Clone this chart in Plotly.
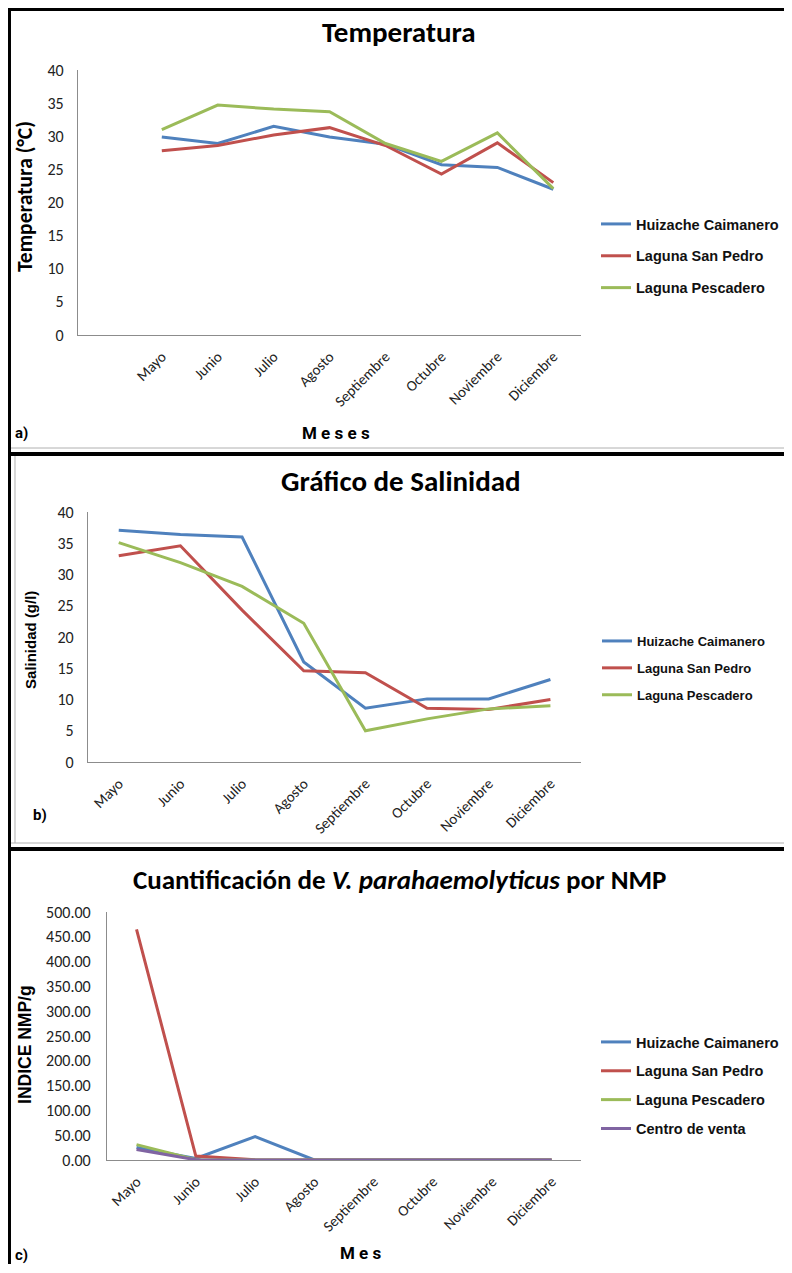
import plotly.graph_objects as go

meses = ["Mayo", "Junio", "Julio", "Agosto", "Septiembre", "Octubre", "Noviembre", "Diciembre"]
series_names = ["Huizache Caimanero", "Laguna San Pedro", "Laguna Pescadero", "Centro de venta"]

temp_huizache = [29.9, 28.9, 31.5, 29.9, 28.8, 25.7, 25.3, 22.0]
temp_sanpedro = [27.8, 28.6, 30.2, 31.3, 28.6, 24.3, 29.0, 23.0]
temp_pescadero = [31.0, 34.7, 34.1, 33.7, 28.9, 26.2, 30.5, 22.1]

sal_huizache = [37.1, 36.4, 36.0, 16.0, 8.6, 10.1, 10.1, 13.2]
sal_sanpedro = [33.0, 34.6, 24.3, 14.6, 14.3, 8.6, 8.4, 10.0]
sal_pescadero = [35.1, 31.9, 28.1, 22.2, 5.0, 6.9, 8.5, 9.0]

nmp_huizache = [25.0, 3.0, 47.0, 0.0, 0.0, 0.0, 0.0, 0.0]
nmp_sanpedro = [465.0, 8.0, 0.5, 0.0, 0.0, 0.0, 0.0, 0.0]
nmp_pescadero = [31.0, 0.5, 0.0, 0.0, 0.0, 0.0, 0.0, 0.0]
nmp_centro = [21.0, 0.5, 0.0, 0.0, 0.0, 0.0, 0.0, 0.0]

colors = ["#4F81BD", "#C0504D", "#9BBB59", "#8064A2"]

# page body has an 8px margin: figure sized to fit the 792x1273 window
OFF = 8
W, H = 776, 1256


def px(x):
    return (x - OFF) / W


def py(y):
    return 1 - (y - OFF) / H


fig = go.Figure()

panels = [
    ("", [temp_huizache, temp_sanpedro, temp_pescadero], "legend"),
    ("2", [sal_huizache, sal_sanpedro, sal_pescadero], "legend2"),
    ("3", [nmp_huizache, nmp_sanpedro, nmp_pescadero, nmp_centro], "legend3"),
]
for suffix, data, leg in panels:
    for i, vals in enumerate(data):
        fig.add_trace(go.Scatter(
            x=meses, y=vals, mode="lines", name=series_names[i],
            line=dict(color=colors[i], width=3),
            xaxis="x" + suffix, yaxis="y" + suffix,
            legend=leg, legendgroup=leg + str(i),
        ))

calibri = "Carlito, Calibri, Lato, sans-serif"
tickfont = dict(family=calibri, size=16, color="#222222")
xtickfont = dict(family=calibri, size=15, color="#222222")
axcommon = dict(showgrid=False, zeroline=False, showline=True, linecolor="#8C8C8C",
                linewidth=1, ticks="", automargin=False)

fig.update_layout(
    width=W, height=H, margin=dict(l=0, r=0, t=0, b=0),
    paper_bgcolor="white", plot_bgcolor="white", showlegend=True,
    xaxis=dict(domain=[px(78), px(582)], anchor="y", type="category",
               categoryarray=meses, range=[-1.5, 7.5], tickangle=-45,
               tickfont=xtickfont, ticklabelstandoff=6, **axcommon),
    yaxis=dict(domain=[py(335), py(70)], anchor="x", range=[0, 40], dtick=5,
               tickfont=tickfont, ticklabelstandoff=10, **axcommon),
    xaxis2=dict(domain=[px(88), px(582)], anchor="y2", type="category",
                categoryarray=meses, range=[-0.5, 7.5], tickangle=-45,
                tickfont=xtickfont, ticklabelstandoff=6, **axcommon),
    yaxis2=dict(domain=[py(762), py(512)], anchor="x2", range=[0, 40], dtick=5,
                tickfont=tickfont, ticklabelstandoff=10, **axcommon),
    xaxis3=dict(domain=[px(107), px(582)], anchor="y3", type="category",
                categoryarray=meses, range=[-0.5, 7.5], tickangle=-45,
                tickfont=xtickfont, ticklabelstandoff=6, **axcommon),
    yaxis3=dict(domain=[py(1160), py(912)], anchor="x3", range=[0, 500], dtick=50,
                tickformat=".2f", tickfont=tickfont, ticklabelstandoff=12, **axcommon),
)

arialb = "Liberation Sans, Arial, sans-serif"
legfont_a = dict(family=arialb, size=14.5, color="#111111", weight="bold")
legfont_b = dict(family=arialb, size=13, color="#111111", weight="bold")
legcommon = dict(xanchor="left", yanchor="top", bgcolor="rgba(0,0,0,0)",
                 traceorder="grouped", itemclick=False, itemdoubleclick=False)
fig.update_layout(
    legend=dict(x=px(597), y=py(208), font=legfont_a, tracegroupgap=10, **legcommon),
    legend2=dict(x=px(597), y=py(626), font=legfont_b, tracegroupgap=7, **legcommon),
    legend3=dict(x=px(597), y=py(1026), font=legfont_a, tracegroupgap=7, **legcommon),
)

ann = []
ann.append(dict(text="<b>Temperatura</b>", x=px(400), y=py(32),
                font=dict(family=calibri, size=29, color="#000000")))
ann.append(dict(text="<b>Gráfico de Salinidad</b>", x=px(402), y=py(481),
                font=dict(family=calibri, size=29, color="#000000")))
ann.append(dict(text="<b>Cuantificación de <i>V. parahaemolyticus</i> por NMP</b>",
                x=px(400), y=py(879),
                font=dict(family=calibri, size=27, color="#000000")))
ann.append(dict(text="<b>Temperatura (°C)</b>", x=px(25), y=py(196), textangle=-90,
                font=dict(family=calibri, size=21.5, color="#000000")))
ann.append(dict(text="<b>Salinidad (g/l)</b>", x=px(30), y=py(640), textangle=-90,
                font=dict(family=arialb, size=15, color="#000000")))
ann.append(dict(text="<b>INDICE NMP/g</b>", x=px(25), y=py(1044), textangle=-90,
                font=dict(family=arialb, size=17.5, color="#000000")))
narrow = "Liberation Sans Narrow, Arial Narrow, Roboto, sans-serif"
ann.append(dict(text="<b>M e s e s</b>", x=px(336), y=py(433),
                font=dict(family=narrow, size=17, color="#000000")))
ann.append(dict(text="<b>M e s</b>", x=px(361), y=py(1253),
                font=dict(family=narrow, size=17, color="#000000")))
ann.append(dict(text="<b>a)</b>", x=px(22), y=py(433),
                font=dict(family=narrow, size=15, color="#000000")))
ann.append(dict(text="<b>b)</b>", x=px(40), y=py(815),
                font=dict(family=narrow, size=15, color="#000000")))
ann.append(dict(text="<b>c)</b>", x=px(22), y=py(1255),
                font=dict(family=narrow, size=15, color="#000000")))
for a in ann:
    a.update(xref="paper", yref="paper", showarrow=False, xanchor="center", yanchor="middle")
fig.update_layout(annotations=ann)

shapes = []


def hline(y, x0, x1, color, w):
    shapes.append(dict(type="line", xref="paper", yref="paper", x0=px(x0), x1=px(x1),
                       y0=py(y), y1=py(y), line=dict(color=color, width=w)))


def vline(x, y0, y1, color, w):
    shapes.append(dict(type="line", xref="paper", yref="paper", x0=px(x), x1=px(x),
                       y0=py(y0), y1=py(y1), line=dict(color=color, width=w)))


hline(448, 10, 792, "#B0B0B0", 1)
hline(843, 10, 792, "#B0B0B0", 1)
vline(15, 456, 843, "#B0B0B0", 1)
hline(9.5, 8, 792, "#000000", 3)
hline(454, 8, 792, "#000000", 4)
hline(849, 8, 792, "#000000", 4)
vline(9.5, 8, 1273, "#000000", 3)
fig.update_layout(shapes=shapes)

fig.write_html("out.html")
